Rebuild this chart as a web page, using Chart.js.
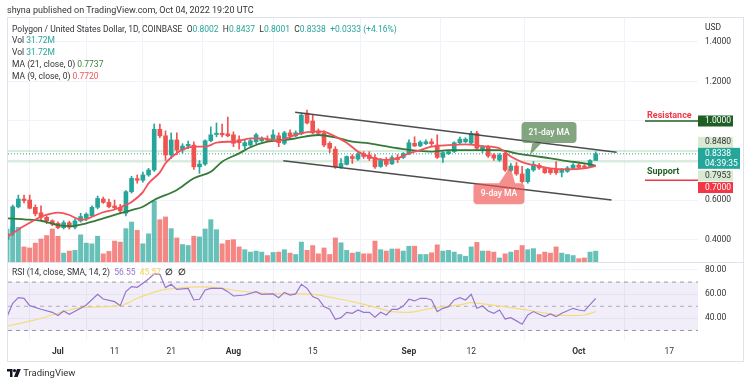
<!DOCTYPE html>
<html>
<head>
<meta charset="utf-8">
<title>Polygon / United States Dollar, 1D</title>
<script src="https://cdn.jsdelivr.net/npm/chart.js@4.4.1/dist/chart.umd.min.js"></script>
<style>
  html, body { margin: 0; padding: 0; background: #fff; }
  #wrap { position: relative; width: 750px; height: 385px; overflow: hidden; font-family: Roboto, "Noto Sans", sans-serif; color: #333; }
  #chart { position: absolute; left: 0; top: 0; }
  .txt { position: absolute; white-space: nowrap; font-size: 8.5px; line-height: 12px; }
  .up { color: #26a69a; }
</style>
</head>
<body>
<div id="wrap">
  <canvas id="chart" width="750" height="385"></canvas>
  <div class="txt" style="left:7px;top:4px;font-size:9px;">shyna published on TradingView.com, Oct 04, 2022 19:20 UTC</div>
  <div class="txt" style="left:12px;top:23px;">Polygon / United States Dollar, 1D, COINBASE &nbsp;O<span class="up">0.8002</span> &nbsp;H<span class="up">0.8437</span> &nbsp;L<span class="up">0.8001</span> &nbsp;C<span class="up">0.8338</span> &nbsp;<span class="up">+0.0333 (+4.16%)</span></div>
  <div class="txt" style="left:12px;top:34px;">Vol <span class="up">31.72M</span></div>
  <div class="txt" style="left:12px;top:46px;">Vol <span class="up">31.72M</span></div>
  <div class="txt" style="left:12px;top:58px;">MA (21, close, 0) <span style="color:#3f7d3a">0.7737</span></div>
  <div class="txt" style="left:12px;top:70px;">MA (9, close, 0) <span style="color:#f05555">0.7720</span></div>
  <div class="txt" style="left:12px;top:266px;">RSI (14, close, SMA, 14, 2) &nbsp;<span style="color:#9575cd">56.55</span> &nbsp;<span style="color:#f2d35c">45.57</span> &nbsp;<b>&empty;</b> &nbsp;<b>&empty;</b></div>
  <div class="txt" style="left:7px;top:367px;font-size:9.5px;">
    <svg width="14" height="8" viewBox="0 0 14 8" style="vertical-align:-1px"><path d="M0 0h5.5v8H3V2.5H0z" fill="#131722"/><circle cx="7.5" cy="1.6" r="1.6" fill="#131722"/><path d="M10 0h3.8L10.6 8H7z" fill="#131722"/></svg>
    TradingView</div>
</div>
<script>
// day 0 = Jul 1 2022, first candle is Jun 22
const firstDay = -9;

// daily candles, Jun 22 .. Oct 4
const opens = [
  0.40, 0.432, 0.565, 0.605, 0.600, 0.563, 0.535, 0.512, 0.495, 0.482,
  0.46, 0.485, 0.462, 0.494, 0.507, 0.519, 0.563, 0.605, 0.588, 0.57,
  0.563, 0.533, 0.642, 0.708, 0.70, 0.727, 0.752, 0.958, 0.925, 0.828,
  0.904, 0.853, 0.873, 0.878, 0.768, 0.782, 0.90, 0.932, 0.938, 0.935,
  0.93, 0.905, 0.874, 0.878, 0.895, 0.90, 0.908, 0.908, 0.925, 0.887,
  0.94, 0.925, 0.935, 1.04, 1.0, 0.95, 0.938, 0.887, 0.857, 0.768,
  0.78, 0.82, 0.807, 0.835, 0.828, 0.815, 0.77, 0.805, 0.783, 0.815,
  0.815, 0.833, 0.887, 0.874, 0.885, 0.895, 0.878, 0.816, 0.835, 0.845,
  0.89, 0.895, 0.888, 0.938, 0.85, 0.87, 0.828, 0.802, 0.836, 0.75,
  0.772, 0.732, 0.693, 0.752, 0.775, 0.76, 0.755, 0.755, 0.74, 0.745,
  0.76, 0.777, 0.772, 0.77, 0.8002
];
const highs = [
  0.44, 0.575, 0.625, 0.625, 0.625, 0.575, 0.57, 0.52, 0.50, 0.49,
  0.495, 0.493, 0.505, 0.533, 0.535, 0.57, 0.62, 0.615, 0.605, 0.60,
  0.578, 0.648, 0.72, 0.727, 0.742, 0.76, 0.985, 0.985, 0.95, 0.94,
  0.94, 0.885, 0.898, 0.895, 0.80, 0.905, 0.97, 0.99, 0.985, 1.02,
  0.945, 0.925, 0.905, 0.912, 0.938, 0.92, 0.925, 0.955, 0.94, 0.948,
  0.955, 0.95, 1.04, 1.055, 1.03, 0.96, 0.95, 0.895, 0.87, 0.81,
  0.823, 0.83, 0.84, 0.845, 0.845, 0.83, 0.81, 0.815, 0.825, 0.83,
  0.84, 0.905, 0.92, 0.90, 0.905, 0.91, 0.93, 0.845, 0.85, 0.895,
  0.918, 0.915, 0.948, 0.948, 0.875, 0.875, 0.835, 0.835, 0.84, 0.785,
  0.79, 0.77, 0.76, 0.795, 0.785, 0.765, 0.76, 0.794, 0.76, 0.77,
  0.785, 0.785, 0.78, 0.805, 0.8437
];
const lows = [
  0.395, 0.42, 0.56, 0.585, 0.555, 0.52, 0.50, 0.48, 0.47, 0.455,
  0.453, 0.453, 0.453, 0.488, 0.495, 0.515, 0.555, 0.583, 0.56, 0.552,
  0.53, 0.52, 0.635, 0.685, 0.69, 0.72, 0.745, 0.915, 0.80, 0.81,
  0.83, 0.838, 0.86, 0.755, 0.735, 0.775, 0.895, 0.92, 0.92, 0.92,
  0.87, 0.858, 0.858, 0.872, 0.885, 0.895, 0.895, 0.90, 0.87, 0.88,
  0.91, 0.92, 0.93, 0.985, 0.935, 0.93, 0.87, 0.84, 0.76, 0.76,
  0.777, 0.785, 0.80, 0.81, 0.80, 0.76, 0.765, 0.77, 0.78, 0.79,
  0.81, 0.83, 0.87, 0.87, 0.88, 0.87, 0.81, 0.79, 0.83, 0.84,
  0.885, 0.89, 0.88, 0.855, 0.84, 0.815, 0.80, 0.795, 0.745, 0.745,
  0.725, 0.685, 0.685, 0.745, 0.755, 0.735, 0.73, 0.73, 0.717, 0.74,
  0.755, 0.76, 0.76, 0.765, 0.8001
];
const closes = [
  0.43, 0.566, 0.605, 0.597, 0.558, 0.53, 0.512, 0.495, 0.478, 0.46,
  0.485, 0.462, 0.494, 0.516, 0.528, 0.563, 0.608, 0.588, 0.566, 0.561,
  0.545, 0.642, 0.71, 0.70, 0.727, 0.752, 0.958, 0.925, 0.828, 0.904,
  0.853, 0.873, 0.882, 0.768, 0.782, 0.90, 0.93, 0.938, 0.93, 0.925,
  0.887, 0.89, 0.89, 0.90, 0.93, 0.908, 0.903, 0.93, 0.89, 0.94,
  0.925, 0.94, 1.03, 0.99, 0.94, 0.938, 0.878, 0.862, 0.768, 0.785,
  0.82, 0.81, 0.833, 0.82, 0.81, 0.768, 0.805, 0.78, 0.815, 0.805,
  0.835, 0.89, 0.874, 0.893, 0.895, 0.885, 0.816, 0.84, 0.845, 0.89,
  0.908, 0.908, 0.938, 0.862, 0.867, 0.823, 0.812, 0.828, 0.752, 0.772,
  0.732, 0.693, 0.755, 0.78, 0.762, 0.738, 0.738, 0.738, 0.752, 0.762,
  0.777, 0.765, 0.765, 0.8002, 0.8338
];
// volume in millions
const volumes = [
  96, 101, 101, 44, 41, 55, 67, 77, 96, 75,
  26, 32, 34, 79, 55, 53, 75, 24, 31, 61,
  58, 97, 116, 92, 53, 82, 177, 123, 131, 97,
  70, 51, 48, 75, 73, 96, 123, 94, 53, 63,
  65, 44, 36, 29, 32, 29, 19, 28, 29, 36,
  26, 22, 58, 34, 48, 24, 41, 22, 70, 56,
  34, 26, 29, 24, 24, 61, 36, 32, 38, 38,
  32, 46, 46, 22, 22, 27, 50, 32, 34, 29,
  22, 17, 44, 57, 32, 32, 29, 12, 24, 29,
  34, 48, 36, 39, 22, 29, 26, 44, 26, 22,
  19, 10, 12, 29, 31.72
];

// moving averages, [day, value]
const ma21 = [[-9,0.507],[-6,0.502],[-3,0.495],[0,0.473],[2,0.468],[5,0.482],[8,0.507],[11,0.533],[13,0.549],[15,0.566],[17,0.60],[21,0.651],[24,0.71],[27,0.743],[29,0.794],[32,0.836],[34,0.867],[37,0.895],[40,0.904],[42,0.912],[46,0.929],[49,0.917],[52,0.895],[55,0.887],[60,0.862],[66,0.845],[69,0.853],[75,0.853],[78,0.853],[81,0.836],[84,0.823],[87,0.811],[90,0.797],[93,0.786],[95,0.7737]];
const ma9 = [[-9,0.413],[-6,0.468],[-4,0.50],[-3,0.515],[-1,0.532],[0,0.536],[2,0.524],[3,0.51],[4,0.50],[5,0.502],[6,0.515],[8,0.538],[10,0.552],[12,0.575],[13,0.59],[15,0.64],[16,0.684],[18,0.74],[19,0.786],[20,0.815],[22,0.855],[24,0.87],[26,0.87],[28,0.89],[30,0.895],[31,0.895],[34,0.912],[36,0.912],[39,0.90],[41,0.92],[43,0.938],[45,0.946],[47,0.946],[48,0.935],[51,0.89],[53,0.845],[55,0.819],[56,0.811],[58,0.803],[60,0.811],[62,0.836],[64,0.853],[66,0.87],[69,0.878],[72,0.882],[75,0.873],[78,0.862],[80,0.82],[82,0.792],[84,0.777],[87,0.76],[90,0.755],[93,0.76],[95,0.772]];

// RSI pane
const rsi = [[-9,41.4],[-8,52.5],[-7,57.1],[-6,56.6],[-5,50.5],[-3,47.5],[-1,45],[0,42.3],[1,46.1],[2,43.4],[4,48.3],[5,51.1],[7,59.9],[8,56],[10,53.8],[11,50.5],[12,62.1],[13,66.2],[14,65.7],[15,69],[16,72.6],[17,76.7],[18,76.4],[19,65.4],[20,68.2],[21,64],[23,64.8],[24,55.2],[25,55.8],[26,63.5],[27,64.8],[29,64.8],[30,62.1],[31,58.5],[33,59.3],[35,62.1],[36,59.9],[38,60.2],[39,57.1],[40,61.5],[41,59.3],[42,60.2],[43,68.2],[44,64.8],[45,58],[46,56],[47,49.7],[48,47.5],[49,39.2],[50,40.6],[51,45],[52,44.2],[53,46.9],[54,45],[55,45],[56,41],[57,45],[58,42.8],[59,47.5],[60,47.5],[61,50.2],[62,55.8],[63,54.4],[64,56.6],[65,56.6],[66,55.2],[67,45.6],[68,48.3],[69,49.7],[70,55.2],[71,57.1],[72,55.2],[73,59.9],[74,48.3],[75,50.2],[76,46.1],[77,44.2],[78,46.9],[79,39.5],[80,40.6],[81,37.9],[82,35.1],[83,42.8],[84,45.6],[85,43.4],[86,41.4],[87,43.6],[88,41.4],[89,44.2],[91,48.3],[92,46.9],[93,46.1],[95,56.55]];
const rsiSma = [[-9,33.7],[-4,38.7],[0,44.2],[4,48.9],[7,49.4],[11,50.5],[14,56.6],[18,62.9],[22,65.4],[25,66],[29,64.8],[32,62.6],[37,60.7],[42,60.2],[45,59.9],[49,56.6],[52,53.8],[56,49.3],[59,45.6],[62,45],[65,47.5],[68,49.7],[71,51.1],[73,53],[75,51.9],[80,48.9],[84,46.1],[88,42.8],[91,42.3],[93,42.8],[95,45.57]];
const rsiBands = [70, 50, 30];

// drawings: channel lines [day, price]
const channelTop = [[41.9, 1.044], [98.7, 0.8415]];
const channelBottom = [[39.8, 0.799], [97.8, 0.60]];
const resistance = 1.0;
const support = 0.70;
const rangeHigh = 0.848;
const rangeLow = 0.7953;
const lastPrice = 0.8338;

// time axis ticks
const tickDays = [0, 10, 20, 31, 45, 62, 73, 92, 108];
const tickLabels = ['Jul', '11', '21', 'Aug', '15', 'Sep', '12', 'Oct', '17'];
const priceTicks = [0.4, 0.6, 0.8, 1.0, 1.2, 1.4];
const rsiTicks = [40, 60, 80];

const UP = '#26a69a';
const DOWN = '#ef5350';
const FONT = 'Roboto, "Noto Sans", sans-serif';

const xMin = -8.83, xMax = 113.07;
const days = opens.map((o, i) => firstDay + i);
const isUp = closes.map((c, i) => c >= opens[i]);
const pts = arr => arr.map(p => ({ x: p[0], y: p[1] }));
const hline = v => [{ x: xMin, y: v }, { x: xMax, y: v }];

const datasets = [
  {
    type: 'bar', label: 'Volume', yAxisID: 'yVol', order: 20, grouped: false,
    data: days.map((d, i) => ({ x: d, y: volumes[i] })),
    backgroundColor: isUp.map(u => u ? 'rgba(38,166,154,0.7)' : 'rgba(239,83,80,0.7)'),
    barThickness: 4.3
  },
  {
    type: 'line', label: 'range high', yAxisID: 'y', order: 15, data: hline(rangeHigh),
    borderColor: 'rgba(76,175,80,0.22)', borderWidth: 2, pointRadius: 0
  },
  {
    type: 'line', label: 'range low', yAxisID: 'y', order: 15, data: hline(rangeLow),
    borderColor: 'rgba(76,175,80,0.22)', borderWidth: 2, pointRadius: 0
  },
  {
    type: 'line', label: 'last', yAxisID: 'y', order: 14, data: hline(lastPrice),
    borderColor: UP, borderWidth: 1, borderDash: [1, 2], pointRadius: 0
  },
  {
    type: 'bar', label: 'wicks', yAxisID: 'y', order: 9, grouped: false,
    data: days.map((d, i) => ({ x: d, y: [lows[i], highs[i]] })),
    backgroundColor: isUp.map(u => u ? UP : DOWN), barThickness: 1
  },
  {
    type: 'bar', label: 'bodies', yAxisID: 'y', order: 8, grouped: false,
    data: days.map((d, i) => ({ x: d, y: [opens[i], closes[i]] })),
    backgroundColor: isUp.map(u => u ? UP : DOWN), barThickness: 4, minBarLength: 1
  },
  {
    type: 'line', label: 'MA 21', yAxisID: 'y', order: 7, data: pts(ma21),
    borderColor: '#357a38', borderWidth: 1.8, pointRadius: 0, cubicInterpolationMode: 'monotone'
  },
  {
    type: 'line', label: 'MA 9', yAxisID: 'y', order: 6, data: pts(ma9),
    borderColor: '#f4515a', borderWidth: 1.8, pointRadius: 0, cubicInterpolationMode: 'monotone'
  },
  {
    type: 'line', label: 'channel top', yAxisID: 'y', order: 5, data: pts(channelTop),
    borderColor: '#4d4d4d', borderWidth: 1.6, pointRadius: 0
  },
  {
    type: 'line', label: 'channel bottom', yAxisID: 'y', order: 5, data: pts(channelBottom),
    borderColor: '#4d4d4d', borderWidth: 1.6, pointRadius: 0
  },
  {
    type: 'line', label: 'resistance', yAxisID: 'y', order: 4, data: [{ x: 103.7, y: resistance }, { x: xMax, y: resistance }],
    borderColor: '#1f5f24', borderWidth: 1.5, pointRadius: 0
  },
  {
    type: 'line', label: 'support', yAxisID: 'y', order: 4, data: [{ x: 103.7, y: support }, { x: xMax, y: support }],
    borderColor: '#f23645', borderWidth: 1.5, pointRadius: 0
  },
  // RSI pane
  {
    type: 'line', label: 'band', yAxisID: 'yRsi', order: 13, data: hline(rsiBands[0]),
    borderColor: '#9598a1', borderWidth: 1, borderDash: [4, 4], pointRadius: 0,
    fill: { value: rsiBands[2] }, backgroundColor: 'rgba(126,87,194,0.1)'
  },
  {
    type: 'line', label: 'mid', yAxisID: 'yRsi', order: 13, data: hline(rsiBands[1]),
    borderColor: '#b2b5be', borderWidth: 1, borderDash: [4, 4], pointRadius: 0
  },
  {
    type: 'line', label: 'low band', yAxisID: 'yRsi', order: 13, data: hline(rsiBands[2]),
    borderColor: '#9598a1', borderWidth: 1, borderDash: [4, 4], pointRadius: 0
  },
  {
    type: 'line', label: 'RSI SMA', yAxisID: 'yRsi', order: 3, data: pts(rsiSma),
    borderColor: '#f5dc7a', borderWidth: 1.2, pointRadius: 0, cubicInterpolationMode: 'monotone'
  },
  {
    type: 'line', label: 'RSI', yAxisID: 'yRsi', order: 2, data: pts(rsi),
    borderColor: '#9575cd', borderWidth: 1.2, pointRadius: 0
  }
];

// price tags on the right axis (shift = px offset used to avoid overlapping)
const axisTags = [
  { value: 1.0, text: '1.0000', bg: '#1f5f24', fg: '#fff', shift: 0 },
  { value: 0.848, text: '0.8480', bg: '#d9ead3', fg: '#333', shift: -8.7 },
  { value: 0.7953, text: '0.7953', bg: '#d9ead3', fg: '#333', shift: 14.4 },
  { value: 0.7, text: '0.7000', bg: '#f23645', fg: '#fff', shift: 7.3 },
  { value: 0.8338, text: '0.8338', sub: '04:39:35', bg: '#26a69a', fg: '#fff', shift: 0 }
];

const callouts = [
  { text: '21-day MA', day: 86.75, price: 0.942, w: 55, tipDay: 83.4, tipPrice: 0.828, base: [11, 21], color: 'rgba(96,140,92,0.78)' },
  { text: '9-day MA', day: 77.9, price: 0.632, w: 51, tipDay: 79.9, tipPrice: 0.769, base: [25, 42], color: 'rgba(239,83,80,0.65)' }
];

const framePlugin = {
  id: 'frame',
  beforeDraw(chart) {
    const ctx = chart.ctx;
    ctx.save();
    ctx.fillStyle = '#fff';
    ctx.fillRect(0, 0, chart.width, chart.height);
    ctx.restore();
  },
  afterDraw(chart) {
    const { ctx, scales } = chart;
    const y = scales.y, x = scales.x;
    ctx.save();

    // outer frame and pane separator
    ctx.strokeStyle = '#e0e3eb';
    ctx.lineWidth = 1;
    ctx.strokeRect(7.5, 17.5, 736, 344);
    ctx.beginPath();
    ctx.moveTo(7, Math.round(y.bottom) + 0.5);
    ctx.lineTo(744, Math.round(y.bottom) + 0.5);
    ctx.stroke();

    ctx.fillStyle = '#333';
    ctx.font = '8.5px ' + FONT;
    ctx.textBaseline = 'middle';
    ctx.fillText('USD', 705, 28);

    // resistance / support labels
    ctx.font = 'bold 9px ' + FONT;
    ctx.textBaseline = 'alphabetic';
    ctx.fillStyle = '#f23645';
    ctx.fillText('Resistance', 647, y.getPixelForValue(resistance) - 3);
    ctx.fillStyle = '#1f5f24';
    ctx.fillText('Support', 647, y.getPixelForValue(support) - 6);

    // callouts
    callouts.forEach(c => {
      const cx = x.getPixelForValue(c.day), cy = y.getPixelForValue(c.price);
      const h = 21, left = cx - c.w / 2, top = cy - h / 2;
      const tx = x.getPixelForValue(c.tipDay), ty = y.getPixelForValue(c.tipPrice);
      const edge = ty > cy ? top + h - 1 : top + 1;
      ctx.beginPath();
      ctx.roundRect(left, top, c.w, h, 4);
      ctx.moveTo(left + c.base[0], edge);
      ctx.lineTo(tx, ty);
      ctx.lineTo(left + c.base[1], edge);
      ctx.closePath();
      ctx.fillStyle = c.color;
      ctx.fill();
      ctx.fillStyle = '#fff';
      ctx.font = '500 8.5px ' + FONT;
      ctx.textAlign = 'center';
      ctx.textBaseline = 'middle';
      ctx.fillText(c.text, cx, cy + 0.5);
      ctx.textAlign = 'left';
    });

    // price tags
    ctx.font = '8.5px ' + FONT;
    ctx.textBaseline = 'middle';
    axisTags.forEach(t => {
      const py = y.getPixelForValue(t.value);
      if (t.sub) {
        ctx.fillStyle = t.bg;
        ctx.fillRect(698, py - 6, 42, 21);
        ctx.fillStyle = t.fg;
        ctx.fillText(t.text, 705, py);
        ctx.fillText(t.sub, 705, py + 10);
      } else {
        const cy = py + t.shift;
        ctx.fillStyle = t.bg;
        ctx.fillRect(698, cy - 5.5, 35, 11);
        ctx.fillStyle = t.fg;
        ctx.fillText(t.text, 705, cy);
      }
    });
    ctx.restore();
  }
};

new Chart(document.getElementById('chart'), {
  type: 'line',
  data: { datasets },
  plugins: [framePlugin],
  options: {
    responsive: false,
    animation: false,
    events: [],
    layout: { padding: { left: 8, right: 7, top: 18, bottom: 24 } },
    plugins: { legend: { display: false }, tooltip: { enabled: false } },
    scales: {
      x: {
        type: 'linear', min: xMin, max: xMax, offset: false,
        afterBuildTicks: s => { s.ticks = tickDays.map(v => ({ value: v })); },
        afterFit: s => { s.height = 21; },
        grid: { color: '#f0f3fa', drawTicks: false },
        border: { display: false },
        ticks: {
          autoSkip: false, maxRotation: 0, padding: 7, color: '#333',
          callback: v => tickLabels[tickDays.indexOf(v)],
          font: ctx => ({ family: FONT, size: 8.5, weight: ['Jul', 'Aug', 'Sep', 'Oct'].includes(tickLabels[ctx.index]) ? 'bold' : 'normal' })
        }
      },
      y: {
        type: 'linear', position: 'right', stack: 'panes', stackWeight: 244,
        min: 0.2861, max: 1.5215,
        afterBuildTicks: s => { s.ticks = priceTicks.map(v => ({ value: v })); },
        afterFit: s => { s.width = 45; },
        grid: { color: '#f0f3fa', drawTicks: false },
        border: { display: false },
        ticks: {
          padding: 7, color: '#333', font: { family: FONT, size: 8.5 },
          callback: v => v === 0.8 ? '' : v.toFixed(4)
        }
      },
      yRsi: {
        type: 'linear', position: 'right', stack: 'panes', stackWeight: 78,
        min: 22.1, max: 86.6,
        afterBuildTicks: s => { s.ticks = rsiTicks.map(v => ({ value: v })); },
        afterFit: s => { s.width = 45; },
        grid: { color: '#f0f3fa', drawTicks: false },
        border: { display: false },
        ticks: {
          padding: 7, color: '#333', font: { family: FONT, size: 8.5 },
          callback: v => v.toFixed(2)
        }
      },
      yVol: {
        type: 'linear', position: 'left', display: false,
        min: -226, max: 708
      }
    }
  }
});
</script>
</body>
</html>
